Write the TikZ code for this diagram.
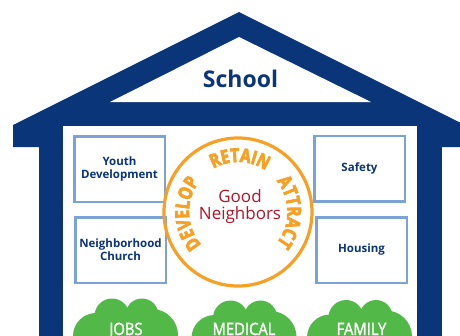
\documentclass[tikz,border=0pt]{standalone}
\usepackage{fontspec}
\setmainfont{Open Sans}
\newfontfamily\arcfont[FakeStretch=0.8,FakeBold=4]{Open Sans}
\newfontfamily\cloudfont[FakeStretch=0.87,FakeBold=1.5]{Open Sans}
\usetikzlibrary{decorations.text}
\definecolor{hblue}{HTML}{0B3579}
\definecolor{lblue}{HTML}{7CA3D9}
\definecolor{horange}{HTML}{F7A026}
\definecolor{hred}{HTML}{B41428}
\definecolor{cgreen}{HTML}{52B848}
\tikzset{
  infobox/.style={draw=lblue, line width=2.5pt, fill=white, text=hblue,
    font=\bfseries\fontsize{11.5}{13}\selectfont, align=center, inner sep=0pt,
    minimum width=90.5pt, minimum height=65.5pt},
  cloudtext/.style={text=white, font=\cloudfont\fontsize{17}{17}\selectfont, inner sep=0pt},
  arctext/.style={decorate, decoration={text along path, text align=center,
    text={|\arcfont\bfseries\fontsize{19}{19}\selectfont\color{horange}|#1}}}
}
\newcommand\cloudshape[2]{%
  \fill[cgreen] (#1-29.5,-336-#2) circle[radius=23pt];
  \fill[cgreen] (#1-13.5,-316-#2) circle[radius=17.5pt];
  \fill[cgreen] (#1+16.5,-315-#2) circle[radius=16.5pt];
  \fill[cgreen] (#1+26.5,-335-#2) circle[radius=26pt];
  \fill[cgreen] (#1-30,-320-#2) rectangle (#1+27,-345);
}
\begin{document}
\begin{tikzpicture}[x=1pt,y=1pt]
\useasboundingbox (0,0) rectangle (460,-335);
\begin{scope}
\clip (0,0) rectangle (460,-335);
% house
\fill[hblue] (239,-12) -- (465,-125) -- (465,-147) -- (13,-147) -- (13,-125) -- cycle;
\fill[hblue] (39,-140) rectangle (442,-345);
\fill[white] (63,-126) rectangle (417,-345);
\fill[white] (239,-37) -- (371,-102) -- (110,-102) -- cycle;
\node[text=hblue, font=\bfseries\fontsize{23}{27}\selectfont, inner sep=0pt] (school) at (240.5,-78.5) {School};
% boxes
\node[infobox] (youth) at (119.5,-169) {Youth\\Development};
\node[infobox] (church) at (120.5,-250) {Neighborhood\\Church};
\node[infobox] (safety) at (359.5,-168.5) {Safety};
\node[infobox] (housing) at (361.5,-250) {Housing};
% circle
\node[draw=horange, line width=3.2pt, circle, minimum size=148pt, inner sep=0pt] (ring) at (238,-212) {};
\node[text=hred, font=\fontsize{17}{17}\selectfont, align=center, inner sep=0pt] (gn) at (240,-207) {Good\\Neighbors};
\path[arctext=RETAIN] (ring.center) ++(148:50) arc[start angle=148, end angle=28, radius=50pt];
\path[arctext=DEVELOP] (ring.center) ++(242:49) arc[start angle=242, end angle=122, radius=49pt];
\path[arctext=ATTRACT] (ring.center) ++(60:49.5) arc[start angle=60, end angle=-60, radius=49.5pt];
% clouds
\cloudshape{125.5}{0}
\cloudshape{244}{2}
\cloudshape{359.5}{1.5}
\node[cloudtext, anchor=base] (jobs) at (126,-335) {JOBS};
\node[cloudtext, anchor=base] (medical) at (244,-335) {MEDICAL};
\node[cloudtext, anchor=base] (family) at (361.5,-335) {FAMILY};
\end{scope}
\end{tikzpicture}
\end{document}
